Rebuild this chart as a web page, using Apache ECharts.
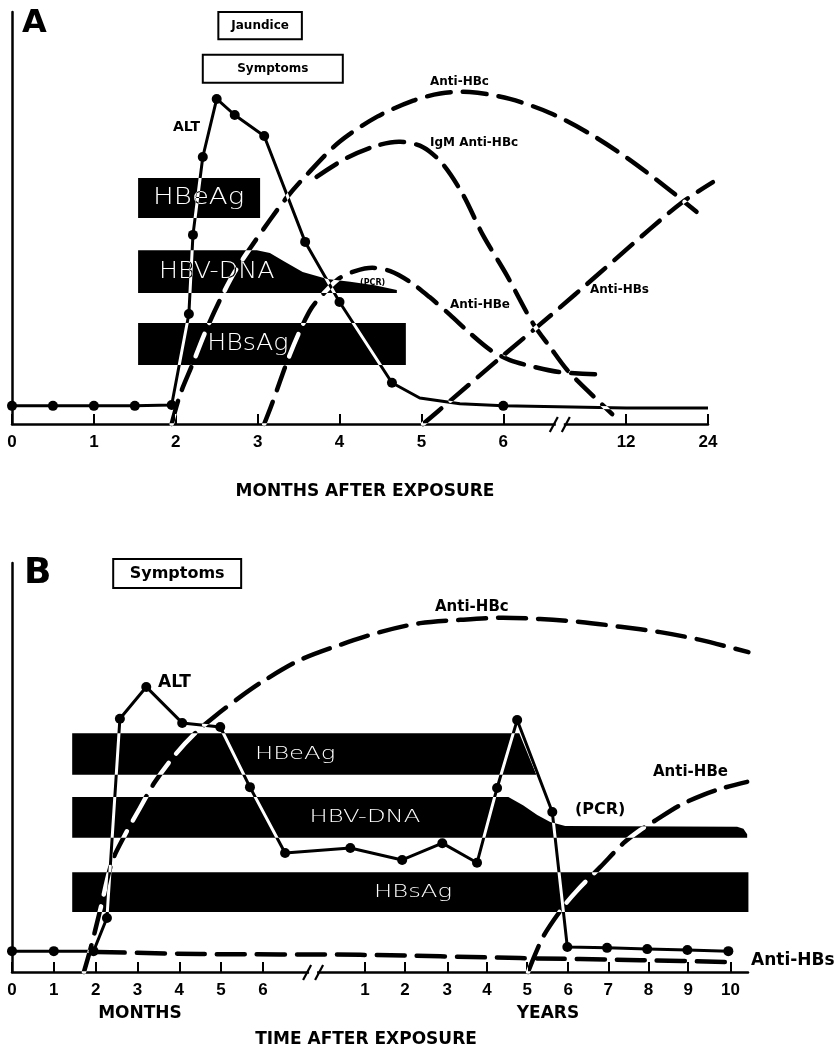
<!DOCTYPE html>
<html>
<head>
<meta charset="utf-8">
<script src="https://cdn.jsdelivr.net/npm/echarts@6/dist/echarts.min.js"></script>
<style>
html, body { margin: 0; background: #fff; }
#chart { width: 838px; height: 1051px; }
</style>
</head>
<body>
<div id="chart"></div>
<script>
// ---- panel A : axis positions (months 0..6, then 12 and 24 after the break) ----
const ticksA = [0, 1, 2, 3, 4, 5, 6, 7.5, 8.5]
const tickLabelsA = ["0", "1", "2", "3", "4", "5", "6", "12", "24"]
const breakA = 6.69

// ALT, [position, level]; marked = drawn with a dot
const altA = [[0, 4.4], [0.5, 4.4], [1, 4.4], [1.5, 4.4], [1.95, 4.6], [2.16, 26.7], [2.21, 45.9], [2.33, 64.8],
	[2.5, 78.9], [2.72, 75.0], [3.08, 69.9], [3.58, 44.2], [4.0, 29.6], [4.64, 10.0], [4.98, 6.3], [5.47, 4.9],
	[6.0, 4.4], [7.5, 3.9], [8.5, 3.9]]
const altAMarked = [1, 1, 1, 1, 1, 1, 1, 1, 1, 1, 1, 1, 1, 1, 0, 0, 1, 0, 0]
const antiHBcA = [[1.95, 0], [2.05, 7.0], [2.2, 14.3], [2.36, 22.3], [2.54, 30.1], [2.72, 36.9], [2.91, 42.7],
	[3.15, 49.5], [3.36, 55.1], [3.6, 60.5], [4.0, 68.5], [4.46, 74.6], [4.9, 78.5], [5.23, 80.2], [5.59, 80.6],
	[6.08, 78.9], [6.57, 75.5], [7.06, 70.4], [7.51, 64.6], [8.0, 57.3], [8.36, 51.5]]
const igmAntiHBcA = [[3.72, 60.0], [4.09, 64.6], [4.46, 67.6], [4.74, 68.5], [5.02, 67.2], [5.26, 63.1],
	[5.51, 55.6], [5.75, 45.9], [6.04, 36.2], [6.36, 24.5], [6.57, 18.7], [6.78, 13.1], [7.02, 8.3], [7.33, 2.4]]
const antiHBeA = [[3.08, 0], [3.17, 4.6], [3.27, 10.2], [3.39, 16.7], [3.52, 22.8], [3.66, 28.2], [3.82, 32.0],
	[4.0, 35.4], [4.19, 37.1], [4.4, 37.9], [4.62, 37.1], [4.86, 34.5], [5.1, 30.8], [5.35, 26.5], [5.59, 22.1],
	[5.84, 18.0], [6.08, 15.5], [6.39, 13.8], [6.69, 12.6], [7.12, 12.1]]
const antiHBsA = [[5.02, 0], [5.35, 5.6], [5.96, 16.0], [6.57, 26.2], [7.18, 36.7], [7.79, 47.3], [8.19, 53.9], [8.56, 58.7]]
// marker outlines (present / detectable)
const hbeagA = [[1.54, 59.7], [3.03, 59.7], [3.03, 50.0], [1.54, 50.0]]
const hbvDnaA = [[1.54, 42.2], [2.99, 42.2], [3.15, 41.5], [3.31, 39.6], [3.55, 36.9], [3.85, 35.2], [4.13, 34.5],
	[4.43, 33.7], [4.7, 32.5], [4.7, 31.8], [1.54, 31.8]]
const hbsagA = [[1.54, 24.5], [4.81, 24.5], [4.81, 14.3], [1.54, 14.3]]
const jaundiceA = [2.52, 3.54]
const symptomsA = [2.33, 4.04]

// ---- panel B : months 0..6, then years 1..10 ----
const ticksB = [0, 1, 2, 3, 4, 5, 6, 8.44, 9.4, 10.41, 11.36, 12.32, 13.3, 14.26, 15.22, 16.17, 17.18]
const tickLabelsB = ["0", "1", "2", "3", "4", "5", "6", "1", "2", "3", "4", "5", "6", "7", "8", "9", "10"]
const breakB = 7.2

const altB = [[0, 5.1], [1, 5.1], [1.95, 5.1], [2.27, 13.2], [2.58, 61.9], [3.21, 69.7], [4.07, 60.9], [4.98, 59.9],
	[5.69, 45.2], [6.53, 29.1], [8.09, 30.3], [9.33, 27.4], [10.29, 31.5], [11.12, 26.7], [11.6, 45.0], [12.08, 61.6],
	[12.92, 39.1], [13.28, 6.1], [14.23, 5.9], [15.19, 5.6], [16.15, 5.4], [17.13, 5.1]]
const antiHBcB = [[1.72, 0], [1.87, 5.4], [2.11, 15.2], [2.39, 26.9], [2.7, 33.5], [3.06, 40.1], [3.42, 46.5],
	[3.9, 53.1], [4.38, 58.4], [4.86, 62.6], [5.45, 67.2], [6.05, 71.4], [6.89, 76.3], [7.85, 80.0], [8.8, 83.1],
	[9.76, 85.3], [10.72, 86.1], [11.67, 86.6], [12.63, 86.3], [13.59, 85.6], [14.55, 84.4], [15.5, 83.1],
	[16.46, 81.2], [17.61, 78.2]]
const antiHBeB = [[12.34, 0], [12.7, 8.6], [13.18, 15.9], [13.52, 20.0], [14.07, 25.7], [14.62, 31.5], [15.02, 34.7],
	[15.33, 36.7], [15.98, 40.8], [16.53, 43.3], [17.01, 45.0], [17.58, 46.5]]
const antiHBsB = [[2.03, 4.9], [4.5, 4.4], [8.33, 4.2], [12.15, 3.4], [15.02, 2.9], [17.3, 2.4]]
const hbeagB = [[1.44, 58.4], [12.13, 58.4], [12.54, 48.2], [1.44, 48.2]]
const hbvDnaB = [[1.44, 42.8], [11.87, 42.8], [12.22, 40.8], [12.56, 38.4], [12.87, 36.7], [13.23, 35.7],
	[17.34, 35.5], [17.49, 35.0], [17.58, 33.7], [17.58, 32.8], [1.44, 32.8]]
const hbsagB = [[1.44, 24.4], [17.61, 24.4], [17.61, 14.7], [1.44, 14.7]]
const symptomsB = [2.42, 5.48]

const boldFont = "DejaVu Sans"
const tickFont = "Liberation Sans"
const thinFont = "DejaVu Sans"

// curves are white strokes switched to 'difference' after render:
// black on the white page, white where they cross the black bands
const curve = (gi, pts, opt) => ({
	type: "custom",
	xAxisIndex: gi,
	yAxisIndex: gi,
	silent: true,
	z: opt.z || 3,
	data: pts,
	renderItem: (params, api) => {
		if (params.dataIndex !== 0) return null
		return {
			type: "polyline",
			name: opt.blend ? "diff" : "plain",
			shape: { points: pts.map(p => api.coord(p)), smooth: opt.smooth || 0 },
			style: {
				stroke: opt.blend ? "#fff" : "#000",
				fill: null,
				lineWidth: opt.width,
				lineDash: opt.dash || null,
				lineCap: opt.dash ? "round" : "butt",
				lineJoin: "round"
			}
		}
	}
})

// white sheet under everything, inside the canvas itself
const paper = {
	type: "custom",
	silent: true,
	z: -10,
	coordinateSystem: "none",
	data: [0],
	renderItem: (params, api) => ({
		type: "rect",
		shape: { x: 0, y: 0, width: api.getWidth(), height: api.getHeight() },
		style: { fill: "#fff" }
	})
}

// black marker band with its white name
const band = (gi, pts, name, size, scale, labelAt) => ({
	type: "custom",
	xAxisIndex: gi,
	yAxisIndex: gi,
	silent: true,
	z: 2,
	data: [pts[0]],
	renderItem: (params, api) => {
		const c = api.coord(labelAt)
		return {
			type: "group",
			children: [
				{ type: "polygon", shape: { points: pts.map(p => api.coord(p)) }, style: { fill: "#000" } },
				{
					type: "text",
					x: c[0],
					y: c[1],
					scaleX: scale,
					style: {
						text: name,
						fill: "#fff",
						fontFamily: thinFont,
						fontWeight: 200,
						fontSize: size,
						align: "center",
						verticalAlign: "middle"
					}
				}
			]
		}
	}
})

const box = (gi, span, top, bottom, text, size) => ({
	type: "custom",
	xAxisIndex: gi,
	yAxisIndex: gi,
	silent: true,
	z: 6,
	data: [[span[0], top]],
	renderItem: (params, api) => {
		const a = api.coord([span[0], top])
		const b = api.coord([span[1], bottom])
		return {
			type: "group",
			children: [
				{
					type: "rect",
					shape: { x: a[0], y: a[1], width: b[0] - a[0], height: b[1] - a[1] },
					style: { fill: "#fff", stroke: "#000", lineWidth: 2 }
				},
				{
					type: "text",
					x: (a[0] + b[0]) / 2,
					y: (a[1] + b[1]) / 2,
					style: {
						text: text,
						fill: "#000",
						fontFamily: boldFont,
						fontWeight: "bold",
						fontSize: size,
						align: "center",
						verticalAlign: "middle"
					}
				}
			]
		}
	}
})

const axisBreak = (gi, at) => ({
	type: "custom",
	xAxisIndex: gi,
	yAxisIndex: gi,
	silent: true,
	z: 6,
	data: [[at, 0]],
	renderItem: (params, api) => {
		const p = api.coord([at, 0])
		const slash = dx => ({
			type: "line",
			shape: { x1: p[0] + dx - 4, y1: p[1] + 8, x2: p[0] + dx + 4, y2: p[1] - 7 },
			style: { stroke: "#000", lineWidth: 2.2 }
		})
		return {
			type: "group",
			children: [
				{ type: "rect", shape: { x: p[0] - 4, y: p[1] - 3, width: 8, height: 6 }, style: { fill: "#fff" } },
				slash(-6),
				slash(6)
			]
		}
	}
})

const dots = (gi, pts, size) => ({
	type: "scatter",
	xAxisIndex: gi,
	yAxisIndex: gi,
	silent: true,
	z: 4,
	symbolSize: size,
	itemStyle: { color: "#000", opacity: 1 },
	data: pts
})

const xAxis = (gi, max, ticks, labels) => ({
	type: "value",
	gridIndex: gi,
	min: 0,
	max: max,
	splitLine: { show: false },
	axisLine: { onZero: false, lineStyle: { color: "#000", width: 2.5 } },
	axisTick: { show: true, inside: true, length: 10, customValues: ticks, lineStyle: { color: "#000", width: 2 } },
	axisLabel: {
		customValues: ticks,
		margin: 10,
		color: "#000",
		fontFamily: tickFont,
		fontWeight: "bold",
		fontSize: 17,
		formatter: v => labels[ticks.findIndex(t => Math.abs(t - v) < 1e-6)] || ""
	}
})

const yAxis = gi => ({
	type: "value",
	gridIndex: gi,
	min: 0,
	max: 100,
	splitLine: { show: false },
	axisTick: { show: false },
	axisLabel: { show: false },
	axisLine: { show: true, lineStyle: { color: "#000", width: 2.5 } }
})

const txt = (x, y, text, size, align) => ({
	type: "text",
	x: x,
	y: y,
	z: 100,
	style: {
		text: text,
		fill: "#000",
		font: "bold " + size + "px '" + boldFont + "'",
		align: align || "left",
		textAlign: align || "left",
		verticalAlign: "middle",
		textVerticalAlign: "middle"
	}
})

const chart = echarts.init(document.getElementById("chart"))
const dashA = [24, 12]
const dashB = [28, 12]

chart.setOption({
	backgroundColor: "#fff",
	animation: false,
	grid: [
		{ left: 12, top: 12, width: 696, height: 412, outerBoundsMode: "none" },
		{ left: 12, top: 563, width: 736, height: 409, outerBoundsMode: "none" }
	],
	xAxis: [xAxis(0, 8.5, ticksA, tickLabelsA), xAxis(1, 17.6, ticksB, tickLabelsB)],
	yAxis: [yAxis(0), yAxis(1)],
	series: [
		paper,
		band(0, hbeagA, "HBeAg", 23, 1.2, [2.28, 54.9]),
		band(0, hbvDnaA, "HBV-DNA", 23, 1.1, [2.5, 37.0]),
		band(0, hbsagA, "HBsAg", 23, 1.1, [2.88, 19.4]),
		curve(0, antiHBcA, { dash: dashA, width: 4.5, smooth: 0.3, blend: true }),
		curve(0, igmAntiHBcA, { dash: dashA, width: 4.5, smooth: 0.3, blend: true }),
		curve(0, antiHBeA, { dash: dashA, width: 4.5, smooth: 0.3, blend: true }),
		curve(0, antiHBsA, { dash: dashA, width: 4.5, smooth: 0.3, blend: true }),
		curve(0, altA, { width: 3, blend: true, z: 3.5 }),
		dots(0, altA.filter((p, i) => altAMarked[i]), 10),
		box(0, jaundiceA, 100, 93.4, "Jaundice", 12),
		box(0, symptomsA, 89.6, 82.8, "Symptoms", 12),
		axisBreak(0, breakA),

		band(1, hbeagB, "HBeAg", 18, 1.35, [6.77, 53.3]),
		band(1, hbvDnaB, "HBV-DNA", 18, 1.35, [8.44, 37.8]),
		band(1, hbsagB, "HBsAg", 18, 1.35, [9.59, 19.6]),
		curve(1, antiHBcB, { dash: dashB, width: 4.5, smooth: 0.3, blend: true }),
		curve(1, antiHBeB, { dash: dashB, width: 4.5, smooth: 0.3, blend: true }),
		curve(1, antiHBsB, { dash: dashB, width: 4.5, smooth: 0.3 }),
		curve(1, altB, { width: 3, blend: true, z: 3.5 }),
		dots(1, altB, 10),
		box(1, symptomsB, 101, 93.9, "Symptoms", 16),
		axisBreak(1, breakB)
	],
	graphic: {
		elements: [
			txt(22, 24, "A", 32),
			txt(173, 127, "ALT", 14),
			txt(430, 82, "Anti-HBc", 12),
			txt(430, 143, "IgM Anti-HBc", 12),
			txt(360, 283, "(PCR)", 8),
			txt(450, 305, "Anti-HBe", 12),
			txt(590, 290, "Anti-HBs", 12),
			txt(365, 492, "MONTHS AFTER EXPOSURE", 17, "center"),

			txt(24, 574, "B", 36),
			txt(158, 683, "ALT", 17),
			txt(435, 607, "Anti-HBc", 15),
			txt(653, 772, "Anti-HBe", 15),
			txt(575, 810, "(PCR)", 16),
			txt(751, 961, "Anti-HBs", 17),
			txt(140, 1014, "MONTHS", 17, "center"),
			txt(548, 1014, "YEARS", 17, "center"),
			txt(366, 1040, "TIME AFTER EXPOSURE", 17, "center")
		]
	}
})

// switch the curves to 'difference' compositing
const zr = chart.getZr()
zr.storage.getDisplayList(true).forEach(el => {
	if (el.name === "diff") {
		el.style.blend = "difference"
		el.markRedraw()
	}
})
zr.refreshImmediately()
</script>
</body>
</html>
